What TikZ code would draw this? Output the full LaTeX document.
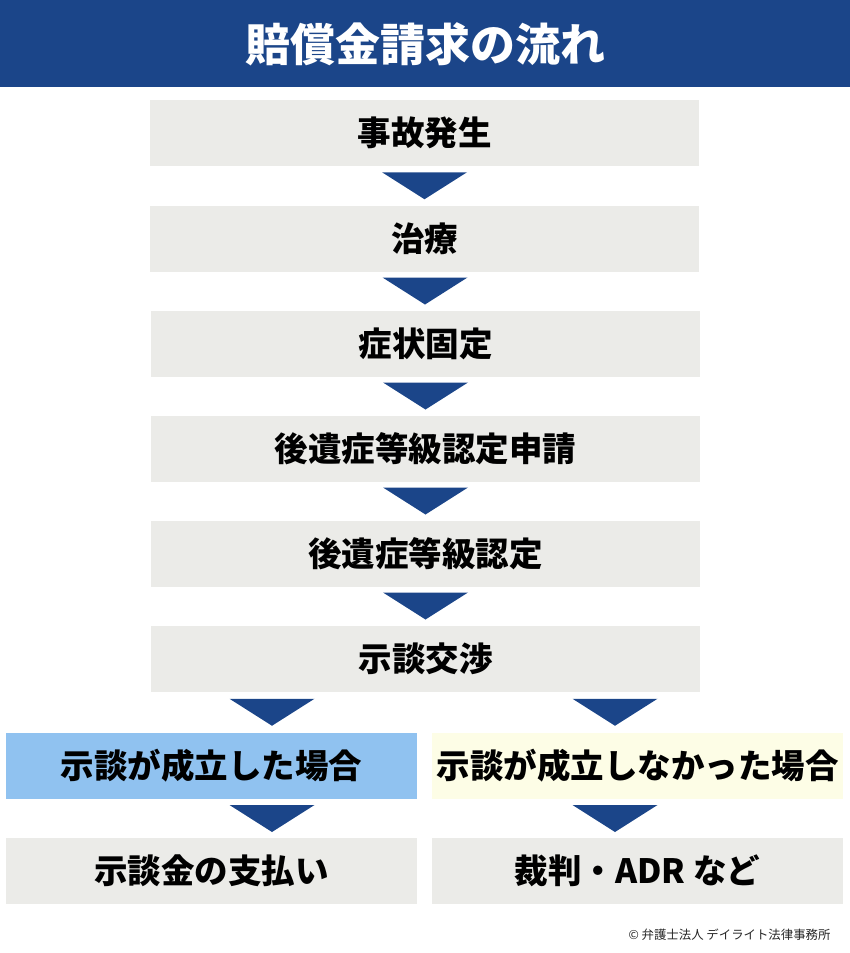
\documentclass[tikz,border=0pt]{standalone}
\usepackage{fontspec}
\setmainfont{Noto Sans CJK JP}
\usetikzlibrary{calc}
\definecolor{navy}{HTML}{1B4589}
\definecolor{boxgray}{HTML}{EBEBE8}
\definecolor{okblue}{HTML}{90C2F0}
\definecolor{ngyellow}{HTML}{FDFDE6}
\tikzset{
  flowbox/.style={fill=boxgray, inner sep=0pt, minimum height=66pt, font=\fontsize{33.5}{33.5}\selectfont\bfseries, text=black},
  mainbox/.style={flowbox, minimum width=549pt},
  sidebox/.style={flowbox, minimum width=411pt},
  tri/.style={fill=navy},
}
\newcommand\downtri[1]{\fill[tri] (#1) ++(-42.5,-13.5) -- ++(85,0) -- ++(-42.5,27) -- cycle;}
\begin{document}
\begin{tikzpicture}[x=1pt,y=-1pt]
\useasboundingbox (0,0) rectangle (850,953);
\fill[navy] (0,0) rectangle (850,87);
\node[text=white, font=\fontsize{45}{45}\selectfont\bfseries] (title) at (425,44) {賠償金請求の流れ};
\node[mainbox] (n1) at (424.5,133) {事故発生};
\node[mainbox] (n2) at (424.5,238.5) {治療};
\node[mainbox] (n3) at (425.5,343.5) {症状固定};
\node[mainbox] (n4) at (425.5,448.5) {後遺症等級認定申請};
\node[mainbox] (n5) at (425.5,553.5) {後遺症等級認定};
\node[mainbox] (n6) at (425.5,658.5) {示談交渉};
\node[sidebox, fill=okblue] (l1) at (211.5,766) {示談が成立した場合};
\node[sidebox, fill=ngyellow] (r1) at (637.5,766) {示談が成立しなかった場合};
\node[sidebox] (l2) at (211.5,871) {示談金の支払い};
\node[sidebox] (r2) at (637.5,871) {裁判・ADR など};
\coordinate (a1) at ($(n1.south)!0.5!(n2.north)$);
\coordinate (a2) at ($(n2.south)!0.5!(n3.north)$);
\coordinate (a3) at ($(n3.south)!0.5!(n4.north)$);
\coordinate (a4) at ($(n4.south)!0.5!(n5.north)$);
\coordinate (a5) at ($(n5.south)!0.5!(n6.north)$);
\coordinate (al) at ($(n6.south)!0.5!(l1.north) + (-46.5,0)$);
\coordinate (ar) at ($(n6.south)!0.5!(r1.north) + (83.5,0)$);
\coordinate (bl) at ($(l1.south)!0.5!(l2.north) + (60.5,0)$);
\coordinate (br) at ($(r1.south)!0.5!(r2.north) + (-22.5,0)$);
\foreach \c in {a1,a2,a3,a4,a5,al,ar,bl,br}{\downtri{\c}}
\node[anchor=east, font=\fontsize{12.4}{12.4}\selectfont, text=black!85] (copy) at (834,935) {© 弁護士法人 デイライト法律事務所};
\end{tikzpicture}
\end{document}
